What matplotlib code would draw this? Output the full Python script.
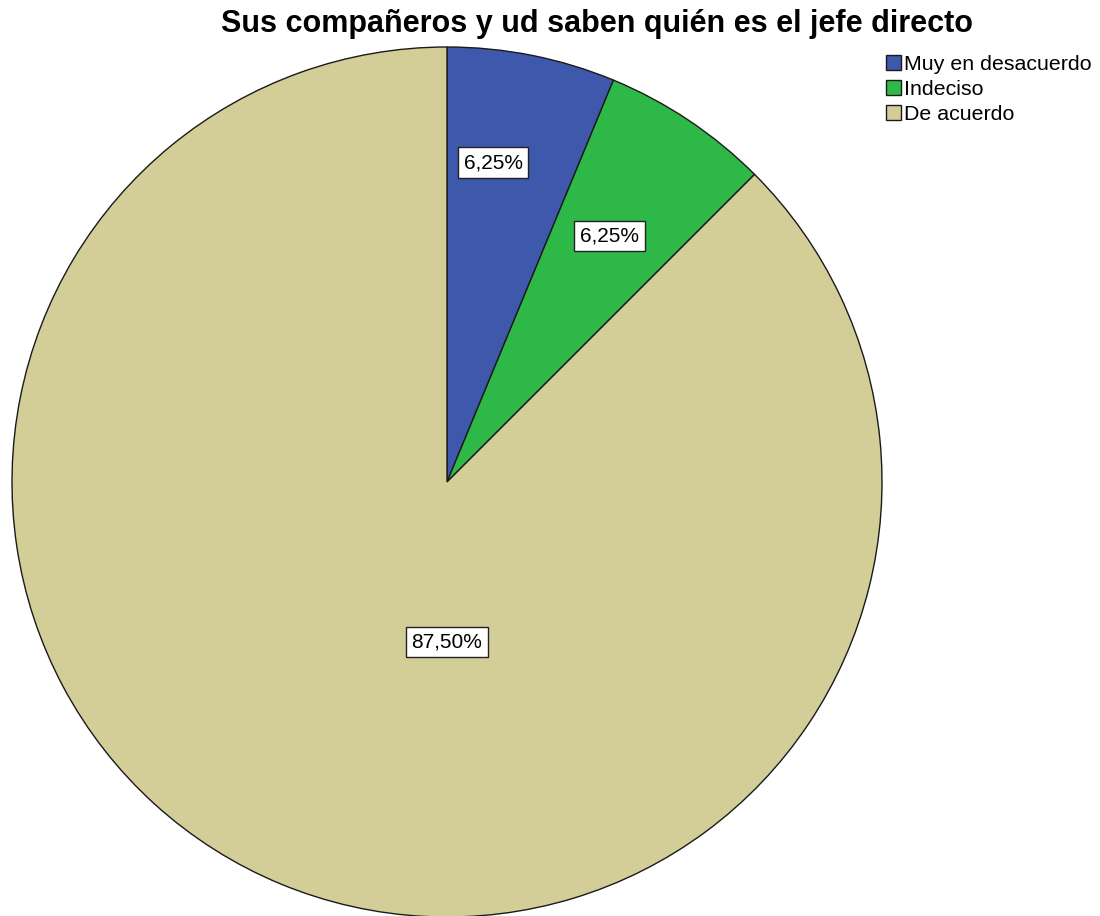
import matplotlib
matplotlib.use("Agg")
import matplotlib.pyplot as plt
import numpy as np

title = "Sus compañeros y ud saben quién es el jefe directo"
categories = ["Muy en desacuerdo", "Indeciso", "De acuerdo"]
percentages = [6.25, 6.25, 87.50]
colors = ["#3E58AC", "#2EB848", "#D3CE97"]

# label anchor per slice: (angle in degrees, distance as fraction of radius)
label_anchor = [(81.8, 0.742), (56.5, 0.678), (-90.0, 0.368)]

plt.rcParams["font.family"] = ["Liberation Sans", "DejaVu Sans"]

W, H = 1100, 916
fig = plt.figure(figsize=(W / 100, H / 100), dpi=100)
ax = fig.add_axes([0, 0, 1, 1])

cx, cy, r = 447, H - 482, 435
wedges, _ = ax.pie(percentages, colors=colors, startangle=90, counterclock=False,
                   center=(cx, cy), radius=r, frame=True,
                   wedgeprops=dict(edgecolor="#1a1a1a", linewidth=1.0))
ax.set_xlim(0, W)
ax.set_ylim(0, H)
ax.set_aspect("equal")
ax.axis("off")

for pct, (ang, frac) in zip(percentages, label_anchor):
    a = np.deg2rad(ang)
    x = cx + frac * r * np.cos(a)
    y = cy + frac * r * np.sin(a)
    ax.text(x, y, f"{pct:.2f}%".replace(".", ","), ha="center", va="center",
            fontsize=15,
            bbox=dict(boxstyle="square,pad=0.28", facecolor="white",
                      edgecolor="#222222", linewidth=1.0))

fig.text(597 / W, 1 - 24 / H, title, ha="center", va="center",
         fontsize=22, fontweight="bold")

leg = fig.legend(wedges, categories, loc="upper left",
                 bbox_to_anchor=(884 / W, 1 - 53 / H), frameon=False,
                 fontsize=15.4, handlelength=0.7, handleheight=0.7,
                 handletextpad=0.15, labelspacing=0.28, borderpad=0.1,
                 borderaxespad=0)

fig.savefig("out.png", dpi=100)
